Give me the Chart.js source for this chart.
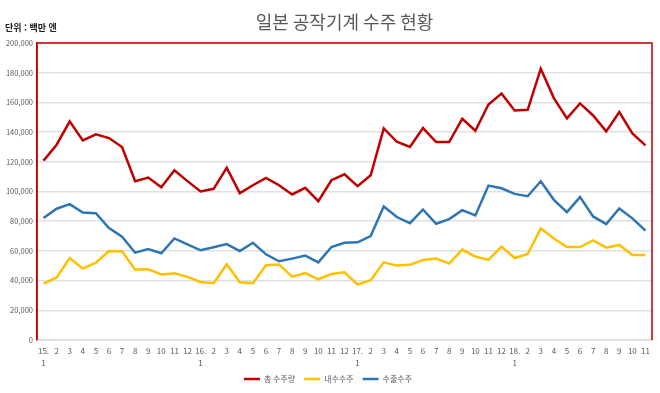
<!doctype html>
<html lang="ko">
<head>
    <meta charset="utf-8">
    <title>일본 공작기계 수주 현황</title>
    <script src="https://cdn.jsdelivr.net/npm/chart.js@4.4.1/dist/chart.umd.min.js"></script>
    <style>
        body { margin: 0; background: #fff; }
        #wrap { position: relative; width: 660px; height: 393px; }
        #unit {
            position: absolute; left: 5px; top: 21px;
            font: bold 9px "Noto Sans CJK KR", sans-serif; color: #222;
        }
    </style>
</head>
<body>
<div id="wrap">
    <canvas id="chart" width="660" height="393"></canvas>
    <div id="unit">단위 : 백만 엔</div>
</div>

<script>
    // 15.1 ~ 18.11
    const labels = [
        ["15.", "1"], "2", "3", "4", "5", "6", "7", "8", "9", "10", "11", "12",
        ["16.", "1"], "2", "3", "4", "5", "6", "7", "8", "9", "10", "11", "12",
        ["17.", "1"], "2", "3", "4", "5", "6", "7", "8", "9", "10", "11", "12",
        ["18.", "1"], "2", "3", "4", "5", "6", "7", "8", "9", "10", "11"
    ];

    const totalOrders = [
        120800, 131500, 147200, 134400, 138500, 136000, 130000, 106900, 109400, 102900, 114300, 107000,
        100000, 101800, 115900, 98900, 104200, 109200, 104200, 98000, 102500, 93500, 107600, 111600,
        103600, 110900, 142500, 133500, 130000, 142700, 133300, 133300, 149000, 140900, 158600, 166000,
        154600, 155000, 182700, 162900, 149200, 159300, 151200, 140500, 153500, 139100, 131100
    ];

    const domesticOrders = [
        38000, 42100, 55200, 48100, 52100, 59900, 59700, 47400, 47700, 44100, 45000, 42500,
        39100, 38300, 51000, 38900, 38300, 50300, 50800, 42700, 45000, 40900, 44500, 45600,
        37400, 40300, 52300, 50100, 50600, 53900, 54800, 51500, 60900, 56200, 53900, 62900,
        55200, 57900, 75200, 68300, 62600, 62600, 67100, 62200, 64000, 57200, 57200
    ];

    const exportOrders = [
        82100, 88400, 91500, 85900, 85400, 75400, 69600, 58800, 61300, 58400, 68400, 64400,
        60400, 62400, 64600, 59900, 65500, 57700, 53000, 54800, 56800, 52300, 62600, 65500,
        65800, 70000, 89900, 82800, 78700, 87900, 78300, 81400, 87400, 83900, 104000, 102200,
        98400, 96800, 106900, 94400, 86100, 96200, 83200, 78100, 88600, 81900, 73600
    ];

    const seriesNames = ["총 수주량", "내수수주", "수출수주"];
    const seriesColors = ["#C00000", "#FFC000", "#2E75B6"];

    // red frame on left, top and right of the plot area
    const redBox = {
        id: 'redBox',
        afterDraw(chart) {
            const a = chart.chartArea;
            const ctx = chart.ctx;
            ctx.save();
            ctx.strokeStyle = '#C00000';
            ctx.lineWidth = 1.5;
            ctx.beginPath();
            ctx.moveTo(a.left, a.bottom);
            ctx.lineTo(a.left, a.top);
            ctx.lineTo(a.right, a.top);
            ctx.lineTo(a.right, a.bottom);
            ctx.stroke();
            ctx.restore();
        }
    };

    const font = "'Noto Sans CJK KR', sans-serif";

    new Chart(document.getElementById('chart'), {
        type: 'line',
        data: {
            labels: labels,
            datasets: [totalOrders, domesticOrders, exportOrders].map((d, i) => ({
                label: seriesNames[i],
                data: d,
                borderColor: seriesColors[i],
                backgroundColor: seriesColors[i],
                borderWidth: 2.5,
                pointRadius: 0,
                tension: 0,
            })),
        },
        options: {
            responsive: false,
            animation: false,
            layout: {
                padding: { left: 4, right: 8, top: 0, bottom: 0 },
            },
            plugins: {
                title: {
                    display: true,
                    text: '일본 공작기계 수주 현황',
                    fullSize: false,
                    color: '#595959',
                    font: { family: font, size: 18, weight: 'normal' },
                    padding: { top: 11, bottom: 10.4 },
                },
                legend: {
                    position: 'bottom',
                    labels: {
                        usePointStyle: true,
                        pointStyle: 'line',
                        pointStyleWidth: 16,
                        color: '#595959',
                        font: { family: font, size: 8 },
                        padding: 9,
                    },
                },
                tooltip: { enabled: false },
            },
            scales: {
                x: {
                    offset: true,
                    grid: { display: false, drawTicks: false },
                    border: { color: '#D9D9D9', width: 1.5 },
                    ticks: {
                        autoSkip: false,
                        maxRotation: 0,
                        color: '#595959',
                        font: { family: font, size: 8, lineHeight: 1.5 },
                        padding: 5,
                    },
                    afterFit(scale) { scale.height = 26; },
                },
                y: {
                    min: 0,
                    max: 200000,
                    ticks: {
                        stepSize: 20000,
                        color: '#595959',
                        font: { family: font, size: 7.5 },
                        padding: 4,
                        callback: (v) => v.toLocaleString('en-US'),
                    },
                    grid: { color: '#E0E0E0', lineWidth: 1.5, drawTicks: false },
                    border: { color: '#C00000', width: 1.5 },
                    afterFit(scale) { scale.width = 33; },
                },
            },
        },
        plugins: [redBox],
    });
</script>
</body>
</html>
